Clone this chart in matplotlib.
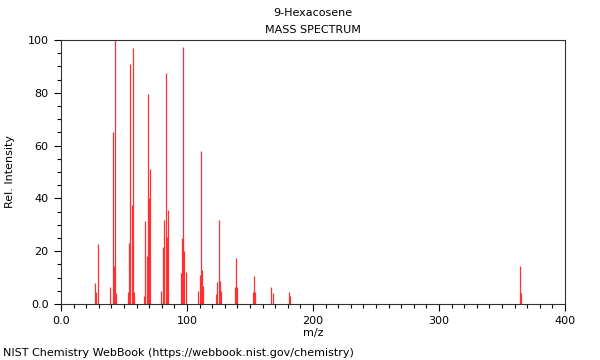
import matplotlib
matplotlib.use("Agg")
import matplotlib.pyplot as plt
from matplotlib.ticker import MultipleLocator, FuncFormatter

# peaks
mz = [27, 28, 29, 39, 41, 42, 43, 44,
      53, 54, 55, 56, 57, 58,
      66, 67, 68, 69, 70, 71,
      79, 81, 82, 83, 84, 85,
      95, 96, 97, 98, 99,
      109, 110, 111, 112, 113,
      123, 124, 125, 126, 127,
      138, 139, 140,
      152, 153, 154,
      167, 168,
      181, 182,
      364, 365]
intensity = [8, 4.6, 22.7, 6.4, 65, 14.4, 100, 4,
             4.5, 23, 91, 37.5, 97, 4.5,
             3, 31.4, 18, 79.5, 40, 51,
             5, 21.7, 31.8, 87.6, 25.5, 35.6,
             11.7, 25, 97.2, 20, 12,
             5, 11, 58, 13, 7,
             3.8, 8.5, 31.8, 8.7, 5,
             6.6, 17.3, 6.6,
             4.5, 10.6, 4.5,
             6.6, 4,
             4.7, 3.2,
             14.5, 4]

title = "9-Hexacosene"
subtitle = "MASS SPECTRUM"
footer = "NIST Chemistry WebBook (https://webbook.nist.gov/chemistry)"

plt.rcParams["font.family"] = "DejaVu Sans"
plt.rcParams["font.size"] = 8


def tick_fmt(v, pos):
    # NIST labels the origin as 0.0, the rest as integers
    return "0.0" if v == 0 else f"{v:.0f}"


fig = plt.figure(figsize=(6, 3.6), dpi=100)
ax = fig.add_axes([61 / 600, 1 - 304 / 360, 504 / 600, 264 / 360])

ax.vlines(mz, 0, intensity, colors="#ff3030", linewidth=0.9)

ax.set_xlim(0, 400)
ax.set_ylim(0, 100)
ax.xaxis.set_major_locator(MultipleLocator(100))
ax.xaxis.set_minor_locator(MultipleLocator(10))
ax.yaxis.set_major_locator(MultipleLocator(20))
ax.yaxis.set_minor_locator(MultipleLocator(5))
ax.xaxis.set_major_formatter(FuncFormatter(tick_fmt))
ax.yaxis.set_major_formatter(FuncFormatter(tick_fmt))
ax.tick_params(which="major", direction="out", length=5, width=0.8, pad=4)
ax.tick_params(which="minor", direction="out", length=3, width=0.8)
for s in ax.spines.values():
    s.set_linewidth(0.8)
    s.set_color("#333333")

ax.set_xlabel("m/z", labelpad=1)
ax.set_ylabel("Rel. Intensity", labelpad=9)

fig.text(0.522, 1 - 13 / 360, title, ha="center", va="center")
fig.text(0.522, 1 - 30 / 360, subtitle, ha="center", va="center")
fig.text(3 / 600, 1 - 353 / 360, footer, ha="left", va="center")

fig.savefig("out.png", dpi=100)
